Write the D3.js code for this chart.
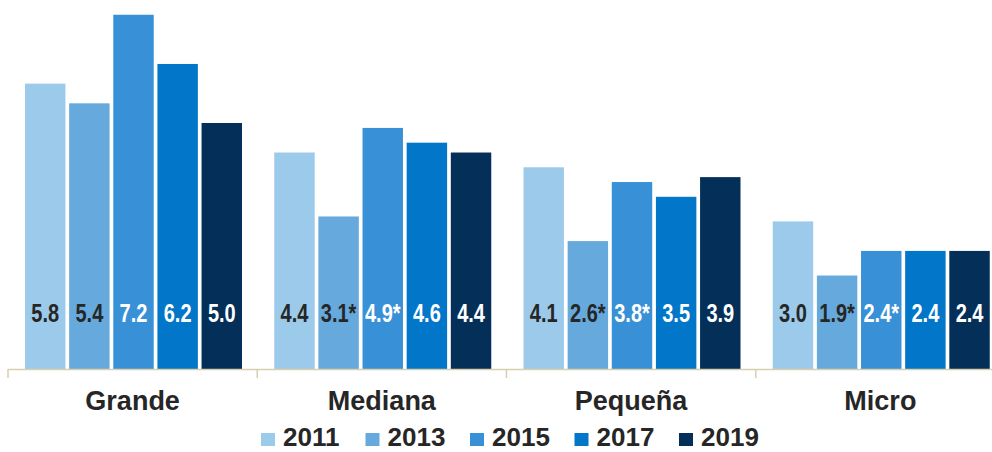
<!DOCTYPE html>
<html>
<head>
<meta charset="utf-8">
<script src="https://cdn.jsdelivr.net/npm/d3@7"></script>
<style>
  body { margin: 0; background: #fff; }
  svg { display: block; }
</style>
</head>
<body>
<div id="chart"></div>
<script>
// DATA
const categories = ['Grande', 'Mediana', 'Pequeña', 'Micro'];
const years = ['2011', '2013', '2015', '2017', '2019'];
const values = {
    '2011': [5.8, 4.4, 4.1, 3.0],
    '2013': [5.4, 3.1, 2.6, 1.9],
    '2015': [7.2, 4.9, 3.8, 2.4],
    '2017': [6.2, 4.6, 3.5, 2.4],
    '2019': [5.0, 4.4, 3.9, 2.4]
};
const starred = {
    '2013': [false, true, true, true],
    '2015': [false, true, true, true]
};
const colors = ['#9ccaea', '#66aadd', '#3891d6', '#0276c8', '#032f58'];
const labelColors = ['#262626', '#262626', '#ffffff', '#ffffff', '#ffffff'];

// FIGURE DIMENSIONS
const FIGURE = { WIDTH: 992, HEIGHT: 452 };
const BASE = 369;

const x = d3.scaleBand()
    .domain(categories)
    .range([8, 1005])
    .paddingInner(0)
    .paddingOuter(0);

const xInner = d3.scaleBand()
    .domain(years)
    .range([17, 234])
    .paddingInner(0.084);

const y = d3.scaleLinear()
    .domain([0, 7.5])
    .range([BASE, 0]);

const svg = d3.select('#chart')
    .append('svg')
        .attr('width', FIGURE.WIDTH)
        .attr('height', FIGURE.HEIGHT);

const groups = svg.selectAll('g.group')
    .data(categories)
    .enter()
    .append('g')
        .attr('class', 'group')
        .attr('transform', d => `translate(${x(d)},0)`);

const rows = [];
categories.forEach((c, ci) => {
    years.forEach((yr, yi) => {
        rows.push({
            cat: c, year: yr, yi: yi, value: values[yr][ci],
            star: starred[yr] ? starred[yr][ci] : false
        });
    });
});

groups.selectAll('rect')
    .data(c => rows.filter(r => r.cat === c))
    .enter()
    .append('rect')
        .attr('x', d => xInner(d.year))
        .attr('y', d => y(d.value))
        .attr('width', xInner.bandwidth())
        .attr('height', d => BASE - y(d.value))
        .attr('fill', d => colors[d.yi]);

// value labels, squeezed to look like a narrow face
groups.selectAll('text.val')
    .data(c => rows.filter(r => r.cat === c))
    .enter()
    .append('text')
        .attr('class', 'val')
        .attr('transform', d => `translate(${xInner(d.year) + xInner.bandwidth() / 2},322) scale(0.8,1)`)
        .attr('text-anchor', 'middle')
        .attr('font-family', '"Liberation Sans", Arial, sans-serif')
        .attr('font-weight', 'bold')
        .attr('font-size', 25)
        .attr('fill', d => labelColors[d.yi])
        .text(d => d.value.toFixed(1) + (d.star ? '*' : ''));

// Axis
const xAxis = d3.axisBottom(x).tickSize(0).tickFormat('');
const axisG = svg.append('g')
    .attr('transform', `translate(0,${BASE})`)
    .call(xAxis);
axisG.select('.domain').attr('stroke', '#d8cfaf').attr('stroke-width', 1.5)
    .attr('d', `M8,0.5H1005`);
axisG.selectAll('.sep')
    .data([8].concat(categories.map(c => x(c) + x.bandwidth())))
    .enter()
    .append('line')
        .attr('class', 'sep')
        .attr('x1', d => d).attr('x2', d => d)
        .attr('y1', 0).attr('y2', 9)
        .attr('stroke', '#d8cfaf')
        .attr('stroke-width', 1.5);

svg.selectAll('text.cat')
    .data(categories)
    .enter()
    .append('text')
        .attr('class', 'cat')
        .attr('x', d => x(d) + x.bandwidth() / 2)
        .attr('y', 410)
        .attr('text-anchor', 'middle')
        .attr('font-family', '"Liberation Sans", Arial, sans-serif')
        .attr('font-weight', 'bold')
        .attr('font-size', 27)
        .attr('fill', '#262626')
        .text(d => d);

// Legend
const legend = svg.selectAll('g.legend')
    .data(years)
    .enter()
    .append('g')
        .attr('class', 'legend')
        .attr('transform', (d, i) => `translate(${261 + i * 104.5},0)`);

legend.append('rect')
    .attr('x', 0).attr('y', 433)
    .attr('width', 14).attr('height', 13)
    .attr('fill', (d, i) => colors[i]);

legend.append('text')
    .attr('x', 22)
    .attr('y', 446)
    .attr('font-family', '"Liberation Sans", Arial, sans-serif')
    .attr('font-weight', 'bold')
    .attr('font-size', 26)
    .attr('fill', '#262626')
    .text(d => d);
</script>
</body>
</html>
